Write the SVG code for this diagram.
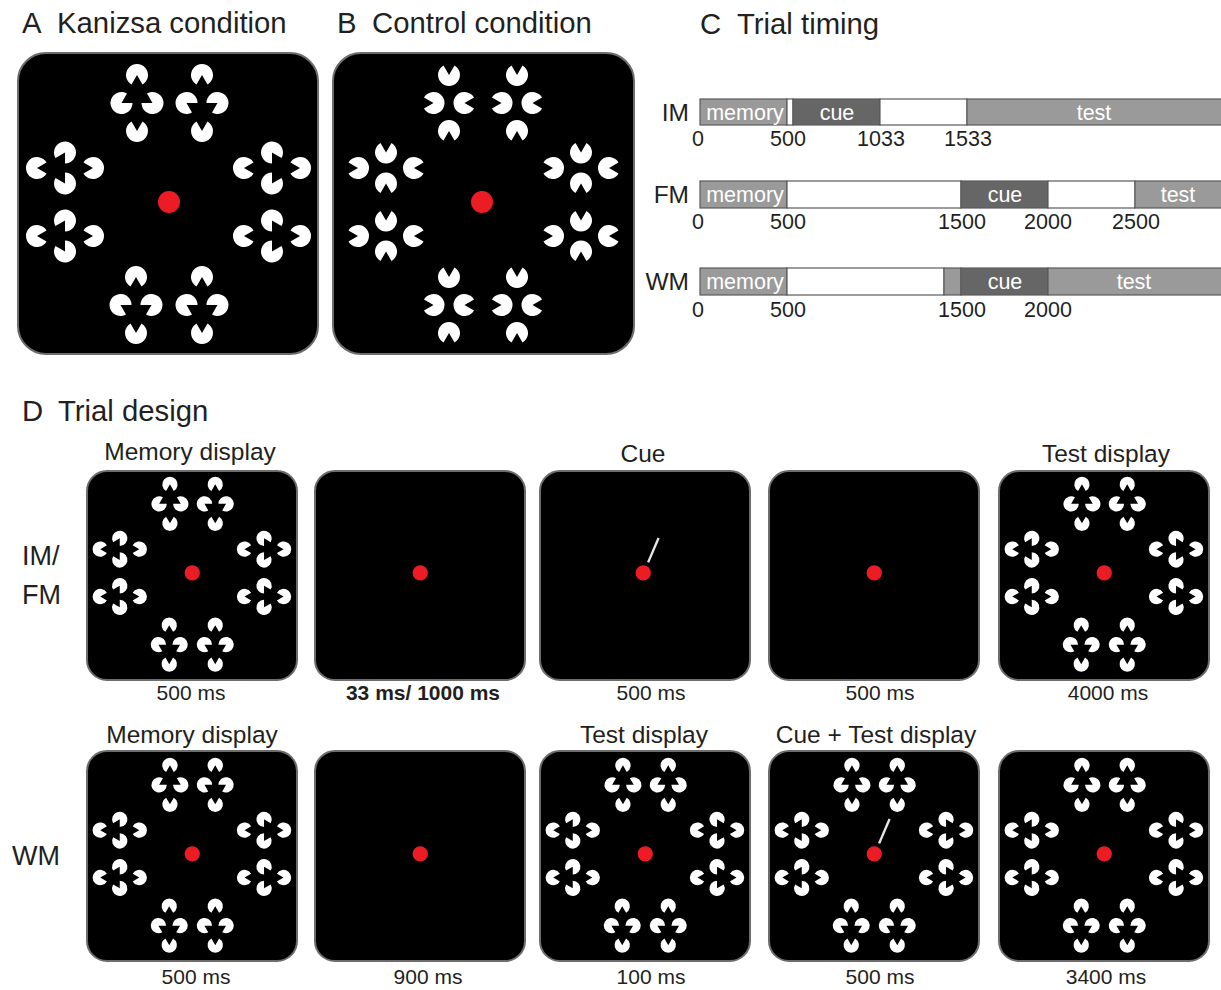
<svg xmlns="http://www.w3.org/2000/svg" xmlns:xlink="http://www.w3.org/1999/xlink" width="1221" height="990" viewBox="0 0 1221 990">
<style>
text{font-family:"Liberation Sans",Arial,sans-serif;fill:#231f20}
.ttl{font-size:29.3px}
.lab{font-size:24.5px}
.num{font-size:21.5px}
.bt{font-size:21.5px;fill:#fff}
.hd{font-size:24.5px}
.ms{font-size:21px}
.rl{font-size:27px}
.box{fill:#000;stroke:#6d6d6d;stroke-width:2}
.seg{stroke:#5a5a5a;stroke-width:1.2}
.g1{fill:#9a9a9a}.g2{fill:#666}.w{fill:#fff}
.dot{fill:#ec1c24}
.cue{stroke:#e6e6e6;stroke-width:3.4}
</style>
<defs>
<path id="p" d="M0,0 L9.526,5.5 A11,11 0 1,1 9.526,-5.5 Z" fill="#fff"/>
<g id="gU"><use href="#p" transform="translate(0,-28) rotate(90)"/><use href="#p" transform="translate(-15.5,0) rotate(-30)"/><use href="#p" transform="translate(15.5,0) rotate(210)"/><use href="#p" transform="translate(0,28) rotate(270)"/></g>
<g id="gD"><use href="#p" transform="translate(0,-28) rotate(90)"/><use href="#p" transform="translate(-15.5,0) rotate(30)"/><use href="#p" transform="translate(15.5,0) rotate(150)"/><use href="#p" transform="translate(0,28) rotate(270)"/></g>
<g id="gL"><use href="#p" transform="translate(-28,0) rotate(0)"/><use href="#p" transform="translate(0,-15.5) rotate(120)"/><use href="#p" transform="translate(0,15.5) rotate(240)"/><use href="#p" transform="translate(28,0) rotate(180)"/></g>
<g id="gR"><use href="#p" transform="translate(-28,0) rotate(0)"/><use href="#p" transform="translate(0,-15.5) rotate(60)"/><use href="#p" transform="translate(0,15.5) rotate(300)"/><use href="#p" transform="translate(28,0) rotate(180)"/></g>
<g id="gCv"><use href="#p" transform="translate(0,-28) rotate(270)"/><use href="#p" transform="translate(-15.5,0) rotate(180)"/><use href="#p" transform="translate(15.5,0) rotate(0)"/><use href="#p" transform="translate(0,28) rotate(90)"/></g>
<g id="gCs"><use href="#p" transform="translate(-28,0) rotate(180)"/><use href="#p" transform="translate(0,-15.5) rotate(270)"/><use href="#p" transform="translate(0,15.5) rotate(90)"/><use href="#p" transform="translate(28,0) rotate(0)"/></g>
<g id="kA">
<use href="#gU" x="119" y="50"/><use href="#gD" x="184" y="50"/>
<use href="#gL" x="47" y="115"/><use href="#gL" x="47" y="183"/>
<use href="#gR" x="254" y="115"/><use href="#gR" x="254" y="183"/>
<use href="#gD" x="118" y="252"/><use href="#gD" x="184" y="252"/>
<circle class="dot" cx="151" cy="149" r="11"/>
</g>
<g id="kT">
<use href="#gU" x="119" y="50"/><use href="#gU" x="184" y="50"/>
<use href="#gL" x="47" y="115"/><use href="#gL" x="47" y="183"/>
<use href="#gR" x="254" y="115"/><use href="#gR" x="254" y="183"/>
<use href="#gD" x="118" y="252"/><use href="#gD" x="184" y="252"/>
<circle class="dot" cx="151" cy="149" r="11"/>
</g>
<g id="kB">
<circle class="dot" cx="151" cy="149" r="11"/>
</g>
<line id="cueL" class="cue" x1="158" y1="134" x2="173" y2="99"/>
</defs>

<g id="panelA">
<text class="ttl" x="22" y="33">A</text><text class="ttl" x="57" y="33">Kanizsa condition</text>
<rect class="box" x="18" y="53" width="300" height="301" rx="28"/>
<use href="#kA" x="18" y="53"/>
</g>

<g id="panelB">
<text class="ttl" x="337" y="33">B</text><text class="ttl" x="372" y="33">Control condition</text>
<rect class="box" x="333" y="53" width="301" height="301" rx="28"/>
<g transform="translate(333,53)">
<use href="#gCv" x="116" y="50"/><use href="#gCv" x="184" y="50"/>
<use href="#gCs" x="53" y="115"/><use href="#gCs" x="53" y="183"/>
<use href="#gCs" x="248" y="115"/><use href="#gCs" x="248" y="183"/>
<use href="#gCv" x="116" y="252"/><use href="#gCv" x="184" y="252"/>
<circle class="dot" cx="149" cy="149" r="11"/>
</g>
</g>

<g id="panelC">
<text class="ttl" x="700" y="34">C</text><text class="ttl" x="737" y="34">Trial timing</text>
<g id="barIM">
<text class="lab" x="689" y="121" text-anchor="end">IM</text>
<rect class="seg g1" x="700" y="99" width="87" height="26"/>
<rect class="seg w" x="787" y="99" width="6" height="26"/>
<rect class="seg g2" x="793" y="99" width="87" height="26"/>
<rect class="seg w" x="880" y="99" width="87" height="26"/>
<rect class="seg g1" x="967" y="99" width="260" height="26"/>
<text class="bt" x="745" y="120" text-anchor="middle">memory</text>
<text class="bt" x="837" y="120" text-anchor="middle">cue</text>
<text class="bt" x="1094" y="120" text-anchor="middle">test</text>
<text class="num" x="698" y="146" text-anchor="middle">0</text>
<text class="num" x="788" y="146" text-anchor="middle">500</text>
<text class="num" x="881" y="146" text-anchor="middle">1033</text>
<text class="num" x="968" y="146" text-anchor="middle">1533</text>
</g>
<g id="barFM">
<text class="lab" x="689" y="203" text-anchor="end">FM</text>
<rect class="seg g1" x="700" y="181" width="87" height="27"/>
<rect class="seg w" x="787" y="181" width="174" height="27"/>
<rect class="seg g2" x="961" y="181" width="87" height="27"/>
<rect class="seg w" x="1048" y="181" width="87" height="27"/>
<rect class="seg g1" x="1135" y="181" width="92" height="27"/>
<text class="bt" x="745" y="202" text-anchor="middle">memory</text>
<text class="bt" x="1005" y="202" text-anchor="middle">cue</text>
<text class="bt" x="1178" y="202" text-anchor="middle">test</text>
<text class="num" x="698" y="229" text-anchor="middle">0</text>
<text class="num" x="788" y="229" text-anchor="middle">500</text>
<text class="num" x="962" y="229" text-anchor="middle">1500</text>
<text class="num" x="1048" y="229" text-anchor="middle">2000</text>
<text class="num" x="1136" y="229" text-anchor="middle">2500</text>
</g>
<g id="barWM">
<text class="lab" x="689" y="290" text-anchor="end">WM</text>
<rect class="seg g1" x="700" y="268" width="87" height="27"/>
<rect class="seg w" x="787" y="268" width="157" height="27"/>
<rect class="seg g1" x="944" y="268" width="17" height="27"/>
<rect class="seg g2" x="961" y="268" width="87" height="27"/>
<rect class="seg g1" x="1048" y="268" width="179" height="27"/>
<text class="bt" x="745" y="289" text-anchor="middle">memory</text>
<text class="bt" x="1005" y="289" text-anchor="middle">cue</text>
<text class="bt" x="1134" y="289" text-anchor="middle">test</text>
<text class="num" x="698" y="317" text-anchor="middle">0</text>
<text class="num" x="788" y="317" text-anchor="middle">500</text>
<text class="num" x="962" y="317" text-anchor="middle">1500</text>
<text class="num" x="1048" y="317" text-anchor="middle">2000</text>
</g>
</g>

<g id="panelD">
<text class="ttl" x="22" y="421">D</text><text class="ttl" x="58" y="421">Trial design</text>
<text class="rl" x="22" y="565">IM/</text><text class="rl" x="22" y="604">FM</text>
<text class="rl" x="12" y="865">WM</text>
<text class="hd" x="190" y="460" text-anchor="middle">Memory display</text>
<text class="hd" x="643" y="462" text-anchor="middle">Cue</text>
<text class="hd" x="1106" y="462" text-anchor="middle">Test display</text>
<text class="hd" x="192" y="743" text-anchor="middle">Memory display</text>
<text class="hd" x="644" y="743" text-anchor="middle">Test display</text>
<text class="hd" x="876" y="743" text-anchor="middle">Cue + Test display</text>

<g id="d11"><rect class="box" x="87" y="471" width="210" height="209" rx="20"/><use href="#kA" transform="translate(87,469) scale(0.697)"/></g>
<g id="d12"><rect class="box" x="315" y="471" width="210" height="209" rx="20"/><use href="#kB" transform="translate(315,469) scale(0.697)"/></g>
<g id="d13"><rect class="box" x="540" y="471" width="210" height="209" rx="20"/><g transform="translate(538,469) scale(0.697)"><use href="#kB"/><use href="#cueL"/></g></g>
<g id="d14"><rect class="box" x="769" y="471" width="210" height="209" rx="20"/><use href="#kB" transform="translate(769,469) scale(0.697)"/></g>
<g id="d15"><rect class="box" x="999" y="471" width="210" height="209" rx="20"/><use href="#kT" transform="translate(999,469) scale(0.697)"/></g>

<g id="d21"><rect class="box" x="87" y="751" width="210" height="210" rx="20"/><use href="#kA" transform="translate(87,750) scale(0.697)"/></g>
<g id="d22"><rect class="box" x="315" y="751" width="210" height="210" rx="20"/><use href="#kB" transform="translate(315,750) scale(0.697)"/></g>
<g id="d23"><rect class="box" x="540" y="751" width="210" height="210" rx="20"/><use href="#kT" transform="translate(540,750) scale(0.697)"/></g>
<g id="d24"><rect class="box" x="769" y="751" width="210" height="210" rx="20"/><g transform="translate(769,750) scale(0.697)"><use href="#kT"/><use href="#cueL"/></g></g>
<g id="d25"><rect class="box" x="999" y="751" width="210" height="210" rx="20"/><use href="#kT" transform="translate(999,750) scale(0.697)"/></g>

<text class="ms" x="191" y="700" text-anchor="middle">500 ms</text>
<text class="ms" x="423" y="700" text-anchor="middle" font-weight="bold" font-size="24">33 ms/ 1000 ms</text>
<text class="ms" x="651" y="700" text-anchor="middle">500 ms</text>
<text class="ms" x="880" y="700" text-anchor="middle">500 ms</text>
<text class="ms" x="1108" y="700" text-anchor="middle">4000 ms</text>
<text class="ms" x="196" y="984" text-anchor="middle">500 ms</text>
<text class="ms" x="428" y="984" text-anchor="middle">900 ms</text>
<text class="ms" x="651" y="984" text-anchor="middle">100 ms</text>
<text class="ms" x="880" y="984" text-anchor="middle">500 ms</text>
<text class="ms" x="1106" y="984" text-anchor="middle">3400 ms</text>
</g>
</svg>
